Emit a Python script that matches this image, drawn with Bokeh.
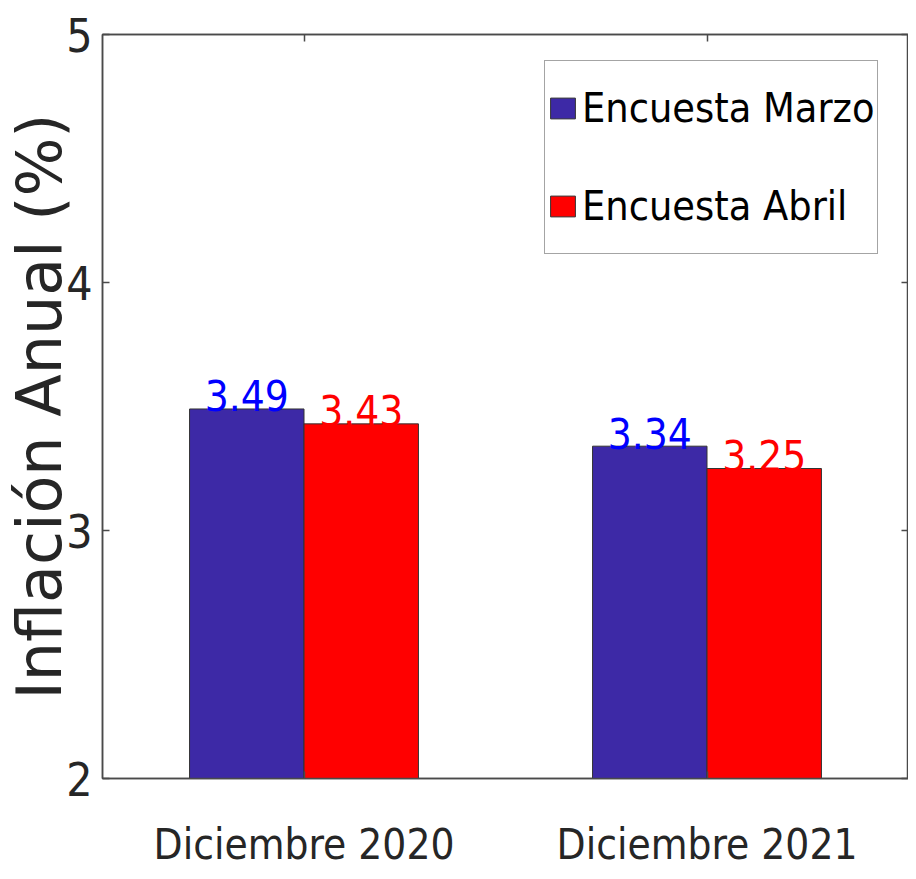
from bokeh.plotting import figure
from bokeh.models import (FactorRange, Range1d, LinearAxis, CategoricalAxis,
                          ColumnDataSource, Legend, LegendItem, FixedTicker)
from bokeh.transform import dodge
from bokeh.core.properties import value
from bokeh.embed import file_html
from bokeh.resources import INLINE

# ---- data ----
categories = ["Diciembre 2020", "Diciembre 2021"]
marzo = [3.49, 3.34]
abril = [3.43, 3.25]
series_names = ["Encuesta Marzo", "Encuesta Abril"]
y_ticks = [2, 3, 4, 5]

NARROW = "'DejaVu Sans Condensed', 'DejaVu Sans', sans-serif"
AX = "#4a4a4a"
TXT = "#262626"
BLUE_BAR = "#3D29A6"
RED_BAR = "#FF0000"

src = ColumnDataSource(dict(
    cat=categories, marzo=marzo, abril=abril,
    marzo_lbl=[f"{v:.2f}" for v in marzo],
    abril_lbl=[f"{v:.2f}" for v in abril],
))

p = figure(x_range=FactorRange(factors=categories), y_range=Range1d(2, 5),
           width=908, height=871, output_backend="svg", toolbar_location=None,
           min_border_left=101, min_border_top=34, min_border_bottom=93,
           min_border_right=0)
p.background_fill_color = "white"
p.border_fill_color = "white"
p.outline_line_color = AX
p.outline_line_width = 1.5
p.xgrid.visible = False
p.ygrid.visible = False

BW = 0.284
r1 = p.vbar(x=dodge("cat", -BW / 2, range=p.x_range), top="marzo", bottom=2,
            width=BW, source=src, fill_color=BLUE_BAR, line_color="#333333",
            line_width=1)
r2 = p.vbar(x=dodge("cat", BW / 2, range=p.x_range), top="abril", bottom=2,
            width=BW, source=src, fill_color=RED_BAR, line_color="#333333",
            line_width=1)

p.text(x=dodge("cat", -BW / 2, range=p.x_range), y="marzo", text="marzo_lbl",
       source=src, text_align="center", text_baseline="alphabetic", y_offset=-13,
       text_font=value(NARROW), text_font_size="42px", text_color="#0000FF")
p.text(x=dodge("cat", BW / 2, range=p.x_range), y="abril", text="abril_lbl",
       source=src, text_align="center", text_baseline="alphabetic", y_offset=-13,
       text_font=value(NARROW), text_font_size="42px", text_color="#FF0000")

# ---- axes ----
for ax in (p.xaxis[0], p.yaxis[0]):
    ax.axis_line_color = AX
    ax.axis_line_width = 1.5
    ax.major_tick_line_color = AX
    ax.major_tick_line_width = 1.5
    ax.major_tick_in = 7
    ax.major_tick_out = 0
    ax.minor_tick_line_color = None
    ax.major_label_text_color = TXT
    ax.major_label_text_font = NARROW

p.yaxis.ticker = FixedTicker(ticks=y_ticks)
p.yaxis.major_label_text_font_size = "46px"
p.yaxis.major_label_standoff = 10
p.yaxis.axis_label = "Inflación Anual (%)"
p.yaxis.axis_label_text_font = "DejaVu Sans"
p.yaxis.axis_label_text_font_size = "62px"
p.yaxis.axis_label_text_font_style = "normal"
p.yaxis.axis_label_text_color = TXT
p.yaxis.axis_label_standoff = -13

p.xaxis.major_label_text_font_size = "42px"
p.xaxis.major_label_standoff = 41

# mirrored axes (box on), ticks only
rax = LinearAxis(ticker=FixedTicker(ticks=y_ticks))
tax = CategoricalAxis()
for ax in (rax, tax):
    ax.axis_line_color = AX
    ax.axis_line_width = 1.5
    ax.major_tick_line_color = AX
    ax.major_tick_line_width = 1.5
    ax.major_tick_in = 7
    ax.major_tick_out = 0
    ax.minor_tick_line_color = None
    ax.major_label_text_color = None
    ax.major_label_text_font_size = "1px"
    ax.major_label_standoff = 0
p.add_layout(rax, "right")
p.add_layout(tax, "above")

# ---- legend ----
legend = Legend(items=[LegendItem(label=series_names[0], renderers=[r1]),
                       LegendItem(label=series_names[1], renderers=[r2])],
                location=(442, 524), margin=0, padding=2, spacing=8,
                glyph_width=31, glyph_height=26, label_standoff=4,
                label_height=90, label_text_font=NARROW,
                label_text_font_size="41px", label_text_color="black",
                border_line_color=AX, border_line_width=1.5,
                background_fill_color="white", background_fill_alpha=1)
p.add_layout(legend, "center")

open("out.html", "w").write(file_html(p, INLINE))
